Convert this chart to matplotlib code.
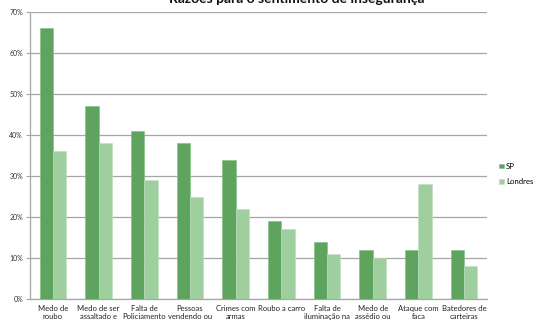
import matplotlib
matplotlib.use("Agg")
import matplotlib.pyplot as plt
import numpy as np
from matplotlib.ticker import FuncFormatter, MultipleLocator

categories = ["Medo de\nroubo", "Medo de ser\nassaltado e", "Falta de\nPoliciamento",
              "Pessoas\nvendendo ou", "Crimes com\narmas", "Roubo a carro",
              "Falta de\niluminação na", "Medo de\nassédio ou", "Ataque com\nfaca",
              "Batedores de\ncarteiras"]
sp = [66, 47, 41, 38, 34, 19, 14, 12, 12, 12]
londres = [36, 38, 29, 25, 22, 17, 11, 10, 28, 8]
series_names = ["SP", "Londres"]
title = "Razões para o sentimento de insegurança"

plt.rcParams['font.family'] = ['Lato', 'DejaVu Sans']

fig = plt.figure(figsize=(5.35, 3.22), dpi=100)
ax = fig.add_axes([30/535, 23/322, 457/535, 287/322])

x = np.arange(len(categories))
w = 0.29
c_sp = "#5ea35e"
c_lo = "#a0cf9f"
ax.bar(x - w/2, sp, w, color=c_sp, edgecolor="#7fbf7f", linewidth=0.4, label=series_names[0], zorder=3)
ax.bar(x + w/2, londres, w, color=c_lo, edgecolor="#bfe0bf", linewidth=0.4, label=series_names[1], zorder=3)

ax.set_xlim(-0.5, len(categories) - 0.5)
ax.set_ylim(0, 70)
ax.yaxis.set_major_locator(MultipleLocator(10))
ax.yaxis.set_major_formatter(FuncFormatter(lambda v, p: f"{int(v)}%"))
ax.grid(axis='y', color="#a6a6a6", linewidth=0.9, zorder=0)
ax.set_axisbelow(True)
for s in ["top", "right"]:
    ax.spines[s].set_visible(False)
ax.spines["left"].set_color("#a6a6a6")
ax.spines["bottom"].set_color("#a6a6a6")
ax.spines["left"].set_linewidth(0.9)
ax.spines["bottom"].set_linewidth(0.9)
ax.tick_params(axis='y', labelsize=5, length=3, color="#a6a6a6", pad=2, labelcolor="#333333")
ax.set_xticks(x)
ax.set_xticklabels(categories, fontsize=5.5, color="#222222", linespacing=1.3)
ax.tick_params(axis='x', length=0, pad=4)

fig.text(297/535, 1 - 3/322, title, ha='center', va='baseline', fontsize=10, fontweight='bold', color="#111111")

leg = fig.legend(loc='center left', bbox_to_anchor=(496/535, 1 - 174/322), frameon=False,
                 fontsize=5.6, handlelength=0.6, handleheight=0.6, handletextpad=0.3,
                 labelspacing=1.1, borderaxespad=0)

fig.savefig("out.png", dpi=100)
